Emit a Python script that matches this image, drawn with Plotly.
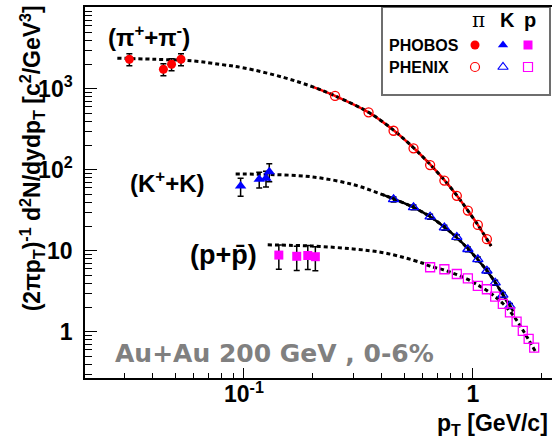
import plotly.graph_objects as go

# ---------------- data ----------------
# PHOBOS low-pT points (filled markers), pT in GeV/c
phobos_pi_pt = [0.0316, 0.0445, 0.0483, 0.0531]
phobos_pi_y = [2330, 1750, 2020, 2330]
phobos_pi_err = [0.17, 0.17, 0.17, 0.17]          # relative errors

phobos_k_pt = [0.0967, 0.1166, 0.1248, 0.129]
phobos_k_y = [63.4, 76.7, 79.0, 95.3]
phobos_k_err = [0.25, 0.22, 0.22, 0.25]

phobos_p_pt = [0.142, 0.170, 0.190, 0.205]
phobos_p_y = [8.9, 8.6, 8.8, 8.5]
phobos_p_err = [0.33, 0.33, 0.33, 0.33]

# PHENIX points (open markers)
phenix_pi_pt = [0.25, 0.35, 0.45, 0.55, 0.65, 0.75, 0.85, 0.95, 1.05, 1.15]
phenix_pi_y = [820, 515, 305, 185, 115, 74, 48, 31.5, 21, 14]

phenix_k_pt = [0.45, 0.55, 0.65, 0.75, 0.85, 0.95, 1.05, 1.15, 1.25, 1.35, 1.45]
phenix_k_y = [43.4, 34.6, 26.5, 19.4, 14.8, 10.5, 7.9, 5.7, 4.06, 2.87, 2.1]
phenix_k_err = [0.07] * 11

phenix_p_pt = [0.65, 0.75, 0.85, 0.95, 1.05, 1.15, 1.25, 1.35, 1.45, 1.55, 1.65, 1.75, 1.85]
phenix_p_y = [6.3, 5.95, 5.2, 4.6, 3.7, 3.37, 2.73, 2.22, 1.75, 1.34, 1.03, 0.82, 0.64]

# fitted spectra (fit region drawn solid, extrapolation dotted)
pi_fit_pt = [0.028, 0.04, 0.06, 0.08, 0.1, 0.15, 0.2, 0.25, 0.35, 0.45, 0.55,
             0.65, 0.75, 0.85, 0.95, 1.05, 1.15, 1.2]
pi_fit_y = [2400, 2330, 2220, 2000, 1820, 1380, 1060, 820, 515, 310, 188,
            117, 75, 48.5, 31.5, 21, 14, 11.5]
pi_fit_from = 0.2

k_fit_pt = [0.092, 0.13, 0.2, 0.3, 0.4, 0.45, 0.55, 0.65, 0.75, 0.85, 0.95,
            1.05, 1.15, 1.25, 1.35, 1.45, 1.5]
k_fit_y = [89, 88, 82, 66, 50, 44, 34.5, 26.5, 19.8, 14.6, 10.7,
           7.8, 5.7, 4.1, 2.9, 2.1, 1.8]
k_fit_from = 0.4

p_fit_pt = [0.127, 0.2, 0.3, 0.4, 0.5, 0.6, 0.65, 0.75, 0.85, 0.95, 1.05,
            1.15, 1.25, 1.35, 1.45, 1.55, 1.65, 1.75, 1.87]
p_fit_y = [11.9, 11.5, 10.6, 9.6, 8.3, 7.1, 6.5, 5.8, 5.1, 4.45, 3.8,
           3.25, 2.72, 2.25, 1.8, 1.4, 1.06, 0.8, 0.58]

x_major = [0.1, 1]
x_major_text = ["10<sup>-1</sup>", "1"]
x_minor = [0.02, 0.03, 0.04, 0.05, 0.06, 0.07, 0.08, 0.09,
           0.2, 0.3, 0.4, 0.5, 0.6, 0.7, 0.8, 0.9, 2]
y_major = [1, 10, 100, 1000]
y_major_text = ["1", "10", "10<sup>2</sup>", "10<sup>3</sup>"]
y_minor = [m * d for d in (0.1, 1, 10, 100, 1000) for m in range(2, 10)]

# ---------------- styling ----------------
RED, BLUE, MAG = "rgb(255,0,0)", "rgb(0,0,255)", "rgb(255,0,255)"
FONT = "Liberation Sans, Arial, Helvetica, sans-serif"
WIDE = "DejaVu Sans, Liberation Sans, sans-serif"
W, H = 552, 442
L, R, T, B = 85, 552, 7, 378   # plot-area edges (px)


def fx(px):
    return (px - L) / (R - L)


def fy(py):
    return (B - py) / (B - T)


fig = go.Figure()


def add_fit(pt, y, solid_from, solid_color):
    sp = [p for p in pt if p >= solid_from]
    sy = [v for p, v in zip(pt, y) if p >= solid_from]
    if solid_color:
        fig.add_trace(go.Scatter(x=sp, y=sy, mode="lines", hoverinfo="skip",
                                 line=dict(color=solid_color, width=2.5,
                                           shape="spline")))
    fig.add_trace(go.Scatter(x=pt, y=y, mode="lines", hoverinfo="skip",
                             line=dict(color="black", width=3, dash="4px,3px",
                                       shape="spline")))


add_fit(pi_fit_pt, pi_fit_y, pi_fit_from, RED)
add_fit(k_fit_pt, k_fit_y, k_fit_from, "black")
add_fit(p_fit_pt, p_fit_y, 99, None)


def err(vals, rel):
    return [v * e for v, e in zip(vals, rel)]


def add_points(pt, y, symbol, color, size, rel=None, open_=False):
    e = None
    if rel is not None:
        e = dict(type="data", array=err(y, rel), color="black",
                 thickness=1.5, width=3)
    marker = dict(symbol=symbol, size=size, color=color)
    marker["line"] = dict(color=color, width=1.3 if open_ else 0)
    fig.add_trace(go.Scatter(x=pt, y=y, mode="markers", marker=marker,
                             error_y=e))


add_points(phenix_pi_pt, phenix_pi_y, "circle-open", RED, 9, open_=True)
add_points(phenix_k_pt, phenix_k_y, "triangle-up-open", BLUE, 9, phenix_k_err, True)
add_points(phenix_p_pt, phenix_p_y, "square-open", MAG, 9, open_=True)
add_points(phobos_pi_pt, phobos_pi_y, "circle", RED, 9, phobos_pi_err)
add_points(phobos_k_pt, phobos_k_y, "triangle-up", BLUE, 10, phobos_k_err)
add_points(phobos_p_pt, phobos_p_y, "square", MAG, 9, phobos_p_err)

# legend markers on a helper axis spanning the plot area
leg_cols = [475, 503, 528]
leg_sym = [("circle", RED), ("triangle-up", BLUE), ("square", MAG)]
for cx, (sym, col) in zip(leg_cols, leg_sym):
    fig.add_trace(go.Scatter(x=[fx(cx)], y=[fy(45)], xaxis="x2", yaxis="y2",
                             mode="markers", hoverinfo="skip",
                             marker=dict(symbol=sym, size=9, color=col,
                                         line=dict(width=0))))
    fig.add_trace(go.Scatter(x=[fx(cx)], y=[fy(67)], xaxis="x2", yaxis="y2",
                             mode="markers", hoverinfo="skip",
                             marker=dict(symbol=sym + "-open", size=9, color=col,
                                         line=dict(width=1.2, color=col))))

ann = []


def text(px, py, s, size, color="black", xanchor="center", yanchor="middle",
         angle=0, family=FONT):
    ann.append(dict(x=fx(px), y=fy(py), xref="paper", yref="paper",
                    text=s, showarrow=False, xanchor=xanchor, yanchor=yanchor,
                    textangle=angle, font=dict(size=size, color=color,
                                               family=family)))


text(149, 36, "<b>(π<sup>+</sup>+π<sup>-</sup>)</b>", 24)
text(167, 182, "<b>(K<sup>+</sup>+K)</b>", 24)
text(223, 255, "<b>(p+p\u0304)</b>", 27)
text(113, 353, "<b>Au+Au 200 GeV , 0-6%</b>", 25, color="rgb(128,128,128)",
     xanchor="left", family=WIDE)
text(550, 425, "<b>p<sub>T</sub> [GeV/c]</b>", 23, xanchor="right")
text(387, 45, "<b>PHOBOS</b>", 16, xanchor="left")
text(387, 67, "<b>PHENIX</b>", 16, xanchor="left")
text(478, 20, "π", 20, family="DejaVu Serif, serif")
text(507, 20, "<b>K</b>", 20)
text(530, 20, "<b>p</b>", 20)
ann.append(dict(x=fx(32), y=1.01, xref="paper", yref="paper",
                text="<b>(2πp<sub>T</sub>)<sup>-1</sup> d<sup>2</sup>N/dydp<sub>T</sub>"
                     " [c<sup>2</sup>/GeV<sup>3</sup>]</b>",
                showarrow=False, textangle=-90, xanchor="center", yanchor="top",
                font=dict(size=23, color="black", family=FONT)))

fig.update_layout(
    width=W, height=H,
    margin=dict(l=L, r=W - R, t=T, b=H - B),
    paper_bgcolor="white", plot_bgcolor="white",
    showlegend=False,
    font=dict(family=FONT, color="black"),
    annotations=ann,
    shapes=[dict(type="rect", xref="paper", yref="paper",
                 x0=fx(382), x1=fx(550), y0=fy(95), y1=1,
                 fillcolor="white", line=dict(color="rgb(110,110,110)", width=2),
                 layer="below")],
    xaxis=dict(type="log", range=[-1.694, 0.345], showgrid=False, zeroline=False,
               showline=True, linecolor="black", linewidth=1.5, mirror=True,
               tickmode="array", tickvals=x_major,
               ticktext=["<b>%s</b>" % t for t in x_major_text],
               ticks="inside", ticklen=10, tickwidth=1.2, tickcolor="black",
               tickfont=dict(size=23, family=FONT, color="black"),
               ticklabelstandoff=-5,
               minor=dict(tickmode="array", tickvals=x_minor, ticks="inside",
                          ticklen=5, tickwidth=1.2, tickcolor="black",
                          showgrid=False)),
    yaxis=dict(type="log", range=[-0.568, 4.012], showgrid=False, zeroline=False,
               showline=True, linecolor="black", linewidth=1.5, mirror=False,
               tickmode="array", tickvals=y_major,
               ticktext=["<b>%s</b>" % t for t in y_major_text],
               ticks="inside", ticklen=12, tickwidth=1.2, tickcolor="black",
               tickfont=dict(size=23, family=FONT, color="black"),
               ticklabelstandoff=6,
               minor=dict(tickmode="array", tickvals=y_minor, ticks="inside",
                          ticklen=7, tickwidth=1.2, tickcolor="black",
                          showgrid=False)),
    xaxis2=dict(domain=[0, 1], range=[0, 1], overlaying="x", visible=False),
    yaxis2=dict(domain=[0, 1], range=[0, 1], overlaying="y", visible=False),
)

fig.write_html("out.html")
